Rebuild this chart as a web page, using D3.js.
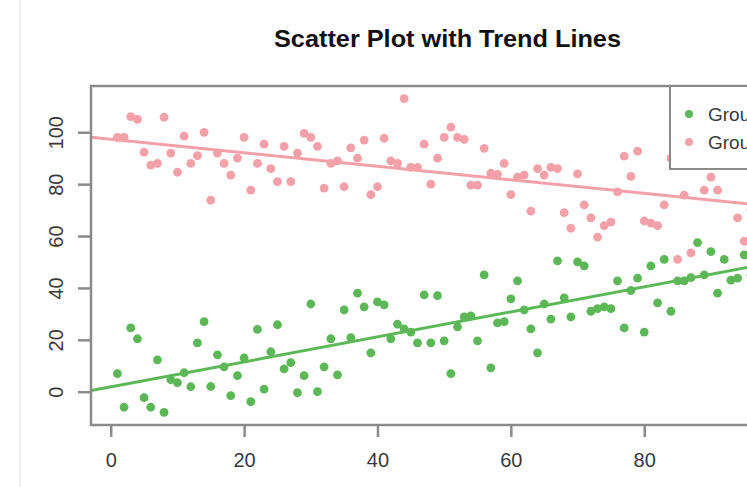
<!DOCTYPE html>
<html>
<head>
<meta charset="utf-8">
<script src="https://cdn.jsdelivr.net/npm/d3@7"></script>
<style>
  html, body { margin: 0; padding: 0; background: #fff; overflow: hidden; }
  text { font-family: "Liberation Sans", Arial, sans-serif; }
</style>
</head>
<body>
<svg id="chart" width="747" height="487"></svg>
<script>
// x positions 1..100 shared by both groups
var xs = d3.range(1, 101);

// Group 1 (green)
var group1 = [7, -6, 24.6, 20.4, -2.3, -6, 12.3, -8, 4.6, 3.5,
  7.3, 1.9, 18.8, 27, 2, 14.2, 9.6, -1.5, 6.2, 13,
  -3.8, 24, 1, 15.4, 25.8, 8.8, 11.2, -0.4, 6.2, 33.8,
  0, 9.6, 20.4, 6.5, 31.5, 20.8, 38, 32.7, 15, 34.6,
  33.5, 20.4, 26, 24.2, 23, 18.8, 37.3, 18.8, 37, 19.6,
  7, 25, 28.8, 29.2, 19.6, 45, 9.2, 26.5, 27, 35.8,
  42.7, 31.5, 24.2, 15, 33.8, 28, 50.4, 36.2, 28.8, 50,
  48.5, 31, 32, 32.7, 32, 42.7, 24.6, 39, 43.8, 23,
  48.5, 34.2, 51, 31, 42.7, 42.7, 44, 57.5, 45, 54,
  38, 51, 43, 43.8, 52.7, 45, 55, 50, 60, 48];

// Group 2 (pink)
var group2 = [98, 98, 106, 105, 92.3, 87.3, 88, 105.8, 92, 84.6,
  98.5, 88, 91, 100, 73.8, 92, 88, 83.5, 90, 98,
  77.7, 88, 95.4, 86, 81, 94.6, 81, 92, 99.6, 98,
  94.6, 78.5, 88, 89, 79, 94, 90, 97, 76, 79,
  97.7, 89, 88, 113, 86.5, 86.5, 95.4, 80, 90, 98,
  102, 98, 97.3, 79.6, 79.6, 93.8, 84.2, 83.8, 88, 76,
  82.7, 83.5, 69.6, 86, 83.5, 86.5, 86, 69, 63, 84,
  72, 67, 59.6, 64, 65.4, 77, 90.8, 83, 92.7, 65.8,
  65, 64, 72, 90, 51, 75.8, 53.5, 90, 77.7, 82.7,
  77.7, 89, 92, 67, 58, 70, 75, 68, 72, 66];

var groupNames = ["Group 1", "Group 2"];
var groupColors = ["#5cb856", "#f3a0a8"];
var xTicks = [0, 20, 40, 60, 80, 100];
var yTicks = [0, 20, 40, 60, 80, 100];
var title = "Scatter Plot with Trend Lines";

var svg = d3.select("#chart");
var plot = { left: 91, top: 86, right: 804, bottom: 425 };

// R style 4% padding on the data range
function padded(ext) {
  var p = (ext[1] - ext[0]) * 0.04;
  return [ext[0] - p, ext[1] + p];
}

var x = d3.scaleLinear()
  .domain(padded(d3.extent(xs)))
  .range([plot.left, plot.right]);

var y = d3.scaleLinear()
  .domain(padded(d3.extent(group1.concat(group2))))
  .range([plot.bottom, plot.top]);

// faint frame of the screenshot
svg.append("line")
  .attr("x1", 20).attr("x2", 20).attr("y1", 0).attr("y2", 487)
  .attr("stroke", "#eeeeee").attr("stroke-width", 2);

svg.append("defs").append("clipPath").attr("id", "clip")
  .append("rect")
  .attr("x", plot.left).attr("y", plot.top)
  .attr("width", plot.right - plot.left)
  .attr("height", plot.bottom - plot.top);

// points
var groups = [group1, group2];
groups.forEach(function(vals, gi) {
  svg.append("g")
    .selectAll("circle")
    .data(vals.map(function(v, i) { return [xs[i], v]; }))
    .enter()
    .append("circle")
    .attr("cx", d => x(d[0]))
    .attr("cy", d => y(d[1]))
    .attr("r", 4.4)
    .attr("fill", groupColors[gi]);
});

// least squares trend lines (abline(lm(...)))
function fit(vals) {
  var mx = d3.mean(xs), my = d3.mean(vals);
  var sxy = d3.sum(xs, (xv, i) => (xv - mx) * (vals[i] - my));
  var sxx = d3.sum(xs, xv => (xv - mx) * (xv - mx));
  var b = sxy / sxx;
  return { a: my - b * mx, b: b };
}

groups.forEach(function(vals, gi) {
  var f = fit(vals);
  var dom = x.domain();
  svg.append("line")
    .attr("clip-path", "url(#clip)")
    .attr("x1", x(dom[0])).attr("y1", y(f.a + f.b * dom[0]))
    .attr("x2", x(dom[1])).attr("y2", y(f.a + f.b * dom[1]))
    .attr("stroke", groupColors[gi])
    .attr("stroke-width", 3);
});

// box
svg.append("rect")
  .attr("x", plot.left).attr("y", plot.top)
  .attr("width", plot.right - plot.left)
  .attr("height", plot.bottom - plot.top)
  .attr("fill", "none")
  .attr("stroke", "#8a8a8a")
  .attr("stroke-width", 2.5);

// axes
var xAxis = svg.append("g")
  .attr("transform", `translate(0, ${plot.bottom})`)
  .call(d3.axisBottom(x).tickValues(xTicks).tickSize(12).tickPadding(16));

var yAxis = svg.append("g")
  .attr("transform", `translate(${plot.left}, 0)`)
  .call(d3.axisLeft(y).tickValues(yTicks).tickSize(13).tickPadding(0));

[xAxis, yAxis].forEach(function(ax) {
  ax.select(".domain").remove();
  ax.selectAll(".tick line").attr("stroke", "#8a8a8a").attr("stroke-width", 2.5);
  ax.selectAll(".tick text")
    .attr("fill", "#3a3a3a")
    .style("font-size", "20px")
    .style("font-family", "'Liberation Sans', Arial, sans-serif");
});

xAxis.selectAll(".tick text").attr("dy", "0.71em");

yAxis.selectAll(".tick text")
  .attr("x", null)
  .attr("dy", null)
  .attr("text-anchor", "middle")
  .attr("transform", "translate(-35, 0) rotate(-90)")
  .attr("y", 7);

// title
svg.append("text")
  .attr("x", (plot.left + plot.right) / 2)
  .attr("y", 47)
  .attr("text-anchor", "middle")
  .attr("font-weight", "bold")
  .attr("font-size", 23)
  .attr("textLength", 347)
  .attr("lengthAdjust", "spacingAndGlyphs")
  .attr("fill", "#111")
  .text(title);

// legend (topright, partly cut off like the picture)
var legend = svg.append("g").attr("transform", `translate(670, ${plot.top})`);
legend.append("rect")
  .attr("width", plot.right - 670)
  .attr("height", 83)
  .attr("fill", "#fff")
  .attr("stroke", "#8a8a8a")
  .attr("stroke-width", 2);

var rows = legend.selectAll("g.row")
  .data(groupNames)
  .enter()
  .append("g")
  .attr("class", "row")
  .attr("transform", (d, i) => `translate(0, ${28 + i * 28})`);

rows.append("circle")
  .attr("cx", 19)
  .attr("r", 4)
  .attr("fill", (d, i) => groupColors[i]);

rows.append("text")
  .attr("x", 38)
  .attr("dy", "0.35em")
  .attr("font-size", 19)
  .attr("fill", "#3a3a3a")
  .text(d => d);
</script>
</body>
</html>
